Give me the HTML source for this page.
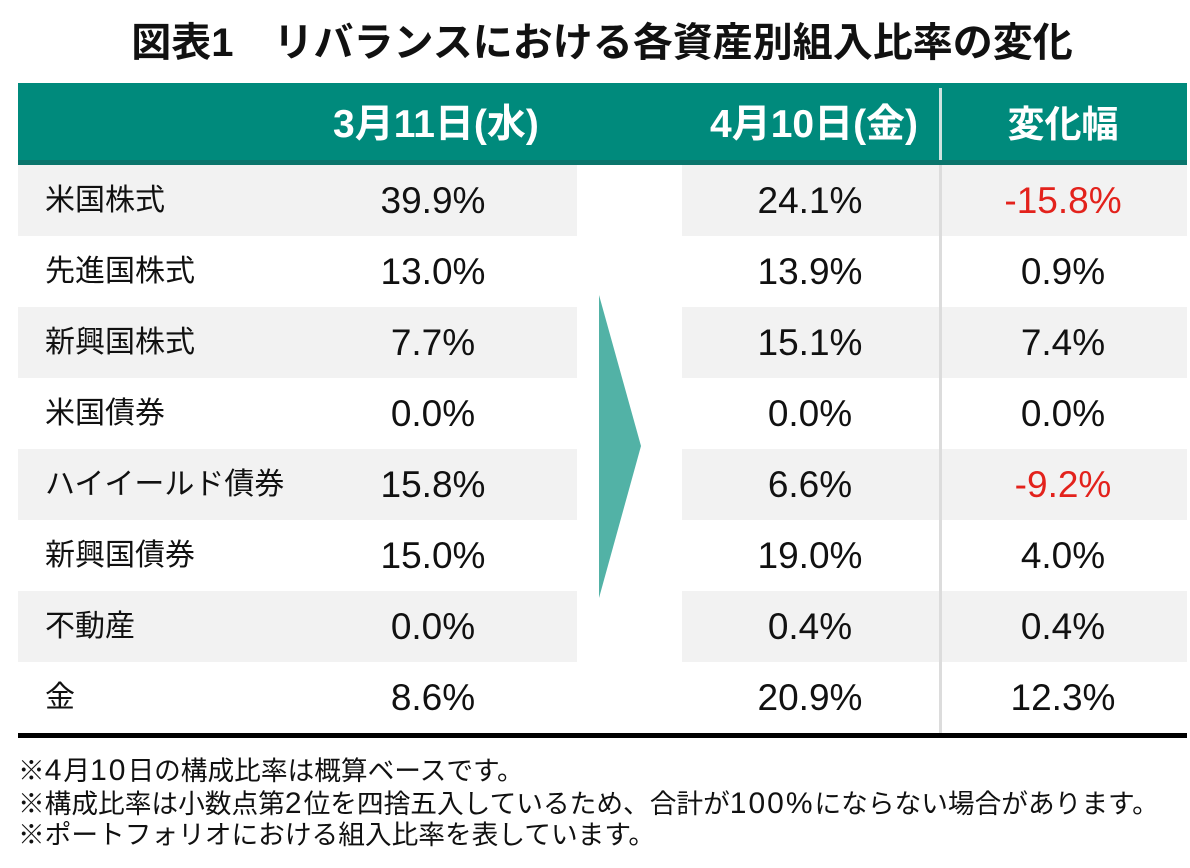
<!DOCTYPE html>
<html lang="ja">
<head>
<meta charset="utf-8">
<style>
  html, body { margin:0; padding:0; background:#fff; }
  body { width:1190px; height:868px; position:relative; overflow:hidden;
         font-family:"Liberation Sans","Noto Sans CJK JP",sans-serif; color:#111; }
  .abs { position:absolute; }
  .title { left:0; width:1204px; top:18px; height:50px; line-height:50px; text-align:center;
           font-size:40px; font-weight:bold; color:#111; white-space:nowrap; }
  .hdr { left:18px; top:83px; width:1169px; height:77px; background:#008a7c; }
  .hdr2 { left:18px; top:160px; width:1169px; height:5px; background:#0a756c; }
  .hsep { left:939px; top:88px; width:3px; height:72px; background:#cfe3e0; }
  .htxt { color:#fff; font-weight:bold; top:83px; height:82px; line-height:84px; text-align:center; white-space:nowrap; }
  .gl { left:18px; width:559px; height:71px; background:#f2f2f2; }
  .gr { left:682px; width:505px; height:71px; background:#f2f2f2; }
  .sep { left:939px; top:165px; width:3px; height:568px; background:#dcdcdc; }
  .bot { left:18px; top:733px; width:1169px; height:5px; background:#000; }
  .lbl { left:45px; height:71px; line-height:71px; font-size:30px; white-space:nowrap; color:#111; }
  .num { height:71px; line-height:71px; font-size:37px; text-align:center; white-space:nowrap; color:#111; }
  .c1 { left:333px; width:200px; }
  .c2 { left:710px; width:200px; }
  .c3 { left:963px; width:200px; }
  .red { color:#e3221c; }
  .notes { left:18px; top:755px; font-size:26.7px; line-height:31.5px; white-space:nowrap; color:#111; }
  .d { font-size:30px; letter-spacing:2px; }
</style>
</head>
<body>
<div class="abs title">図表1　リバランスにおける各資産別組入比率の変化</div>

<div class="abs hdr"></div>
<div class="abs hdr2"></div>
<div class="abs hsep"></div>
<div class="abs htxt c1" style="font-size:39px;">3月11日(水)</div>
<div class="abs htxt c2" style="font-size:39px;">4月10日(金)</div>
<div class="abs htxt c3" style="font-size:37px;">変化幅</div>

<!-- gray rows -->
<div class="abs gl" style="top:165px"></div><div class="abs gr" style="top:165px"></div>
<div class="abs gl" style="top:307px"></div><div class="abs gr" style="top:307px"></div>
<div class="abs gl" style="top:449px"></div><div class="abs gr" style="top:449px"></div>
<div class="abs gl" style="top:591px"></div><div class="abs gr" style="top:591px"></div>

<div class="abs sep"></div>
<div class="abs bot"></div>

<svg class="abs" style="left:0;top:0" width="1190" height="868">
  <polygon points="599,295 641,446 599,598" fill="#52b2a6"/>
</svg>

<!-- row 1 -->
<div class="abs lbl" style="top:165px">米国株式</div>
<div class="abs num c1" style="top:165px">39.9%</div>
<div class="abs num c2" style="top:165px">24.1%</div>
<div class="abs num c3 red" style="top:165px">-15.8%</div>
<!-- row 2 -->
<div class="abs lbl" style="top:236px">先進国株式</div>
<div class="abs num c1" style="top:236px">13.0%</div>
<div class="abs num c2" style="top:236px">13.9%</div>
<div class="abs num c3" style="top:236px">0.9%</div>
<!-- row 3 -->
<div class="abs lbl" style="top:307px">新興国株式</div>
<div class="abs num c1" style="top:307px">7.7%</div>
<div class="abs num c2" style="top:307px">15.1%</div>
<div class="abs num c3" style="top:307px">7.4%</div>
<!-- row 4 -->
<div class="abs lbl" style="top:378px">米国債券</div>
<div class="abs num c1" style="top:378px">0.0%</div>
<div class="abs num c2" style="top:378px">0.0%</div>
<div class="abs num c3" style="top:378px">0.0%</div>
<!-- row 5 -->
<div class="abs lbl" style="top:449px">ハイイールド債券</div>
<div class="abs num c1" style="top:449px">15.8%</div>
<div class="abs num c2" style="top:449px">6.6%</div>
<div class="abs num c3 red" style="top:449px">-9.2%</div>
<!-- row 6 -->
<div class="abs lbl" style="top:520px">新興国債券</div>
<div class="abs num c1" style="top:520px">15.0%</div>
<div class="abs num c2" style="top:520px">19.0%</div>
<div class="abs num c3" style="top:520px">4.0%</div>
<!-- row 7 -->
<div class="abs lbl" style="top:591px">不動産</div>
<div class="abs num c1" style="top:591px">0.0%</div>
<div class="abs num c2" style="top:591px">0.4%</div>
<div class="abs num c3" style="top:591px">0.4%</div>
<!-- row 8 -->
<div class="abs lbl" style="top:662px">金</div>
<div class="abs num c1" style="top:662px">8.6%</div>
<div class="abs num c2" style="top:662px">20.9%</div>
<div class="abs num c3" style="top:662px">12.3%</div>

<div class="abs notes">
※<span class="d">4</span>月<span class="d">10</span>日の構成比率は概算ベースです。<br>
※構成比率は小数点第<span class="d">2</span>位を四捨五入しているため、合計が<span class="d">100%</span>にならない場合があります。<br>
※ポートフォリオにおける組入比率を表しています。
</div>
</body>
</html>
